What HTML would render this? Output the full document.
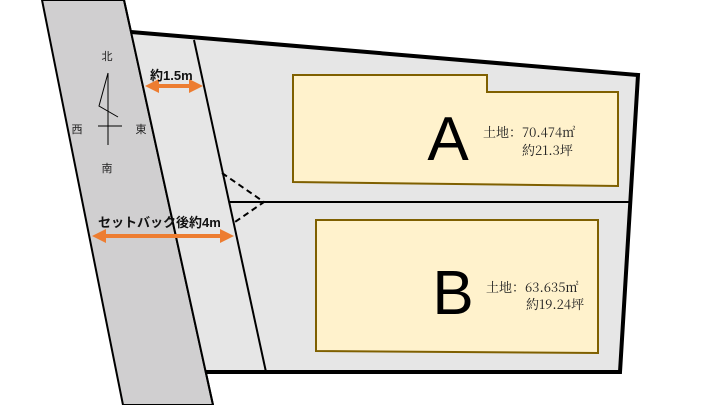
<!DOCTYPE html>
<html><head><meta charset="utf-8"><style>
html,body{margin:0;padding:0;background:#fff;}
svg{display:block;}
text{font-family:"Liberation Sans","Noto Sans CJK JP",sans-serif;}
.s{font-family:"Noto Serif CJK SC","Liberation Serif",serif;font-size:13px;fill:#222;}
</style></head><body>
<svg width="720" height="405" viewBox="0 0 720 405" xmlns="http://www.w3.org/2000/svg">
<defs>
<marker id="ah" markerWidth="3.5" markerHeight="3.5" refX="1.75" refY="1.75" orient="auto-start-reverse" markerUnits="strokeWidth"><path d="M0,0 L3.5,1.75 L0,3.5 z" fill="#ed7d31"/></marker>
</defs>
<polygon points="42,0 124,0 213,405 123,405" fill="#d0cfd0" stroke="#000" stroke-width="2"/>
<polygon points="131,32 638,75 620,372 206,372" fill="#e6e6e6"/>
<polyline points="131,32 638,75 620,372 206,372" fill="none" stroke="#000" stroke-width="4" stroke-linejoin="miter"/>
<line x1="124" y1="0" x2="213" y2="405" stroke="#000" stroke-width="2"/>
<line x1="194" y1="40" x2="266" y2="372" stroke="#000" stroke-width="2"/>
<line x1="230" y1="202" x2="629" y2="202" stroke="#000" stroke-width="2"/>
<polyline points="222,173 264,202 235,222" fill="none" stroke="#000" stroke-width="2" stroke-dasharray="6,4"/>
<polygon points="293,75 487,75 487,92 618,92 618,186 293,182" fill="#fff2cc" stroke="#7f6000" stroke-width="2"/>
<polygon points="316,220 598,220 598,353 316,351" fill="#fff2cc" stroke="#7f6000" stroke-width="2"/>
<text x="448" y="160" font-size="62" font-weight="300" text-anchor="middle" fill="#000">A</text>
<text x="453" y="314" font-size="62" font-weight="300" text-anchor="middle" fill="#000">B</text>
<text class="s" x="483" y="137">土地：70.474㎡</text>
<text class="s" x="522" y="155">約21.3坪</text>
<text class="s" x="486" y="292">土地：63.635㎡</text>
<text class="s" x="526" y="309">約19.24坪</text>
<line x1="152" y1="86" x2="196" y2="86" stroke="#ed7d31" stroke-width="4" marker-start="url(#ah)" marker-end="url(#ah)"/>
<line x1="99" y1="236" x2="227" y2="236" stroke="#ed7d31" stroke-width="4" marker-start="url(#ah)" marker-end="url(#ah)"/>
<text x="150" y="80" font-size="13" font-weight="bold" fill="#111">約1.5m</text>
<text x="98" y="227" font-size="13" font-weight="bold" fill="#111">セットバック後約4m</text>
<g font-size="11" fill="#222" text-anchor="middle">
<text x="107" y="60">北</text><text x="77" y="133">西</text><text x="141" y="133">東</text><text x="107" y="172">南</text>
</g>
<polyline points="108,73 99,106 118,117" fill="none" stroke="#000" stroke-width="1"/>
<line x1="108" y1="73" x2="108" y2="145" stroke="#000" stroke-width="1"/>
<line x1="98" y1="126" x2="122" y2="126" stroke="#000" stroke-width="1"/>
</svg>
</body></html>
